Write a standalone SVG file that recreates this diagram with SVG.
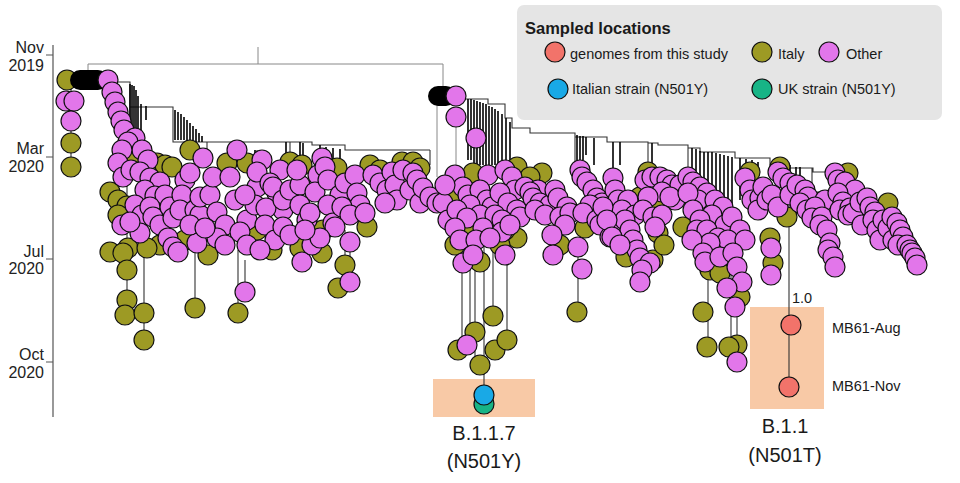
<svg xmlns="http://www.w3.org/2000/svg" width="960" height="483" viewBox="0 0 960 483">
<style>
text{font-family:"Liberation Sans",Arial,sans-serif;fill:#1a1a1a}
.o{fill:#9d9a24;stroke:#111;stroke-width:1.2}
.p{fill:#e276ea;stroke:#111;stroke-width:1.2}
.r{fill:#f2736a;stroke:#111;stroke-width:1.2}
.b{fill:#19a9e6;stroke:#111;stroke-width:1.2}
.g{fill:#17b486;stroke:#111;stroke-width:1.2}
.ln{fill:none;stroke:#333;stroke-width:1.1}
.gl{fill:none;stroke:#888;stroke-width:1}
.dk{fill:none;stroke:#000;stroke-width:1.6}
.ax{fill:none;stroke:#555;stroke-width:1.2}
.lab{font-size:16px;text-anchor:end;fill:#222}
.leg{font-size:14.5px}
.big{font-size:20px;text-anchor:middle}
.sm{font-size:14.5px}
</style>

<g id="axis">
<path class="ax" d="M53 45V417M46 55H53M46 157H53M46 259H53M46 362H53"/>
<text class="lab" x="44" y="53">Nov</text><text class="lab" x="44" y="71">2019</text>
<text class="lab" x="44" y="154">Mar</text><text class="lab" x="44" y="172">2020</text>
<text class="lab" x="44" y="257">Jul</text><text class="lab" x="44" y="274">2020</text>
<text class="lab" x="44" y="360">Oct</text><text class="lab" x="44" y="378">2020</text>
</g>

<g id="highlights">
<rect x="433" y="379" width="102" height="38" fill="#f8c9a6"/>
<rect x="750" y="307" width="74" height="102" fill="#f8c9a6"/>
</g>

<g id="connectors">
<path class="gl" d="M88 80V64H443V96M258 47V64"/>
<path class="ln" d="M103 82H130V107H173V142H312V145H345V150H430M130 107V160M71 80V167M127 140V300M144 250V340M195 240V308M238 250V313M245 260V292M302 230V262M322 230V253M345 230V282M350 240V282M207 142V150M257 150V172M290 142V162"/>
<path class="dk" d="M130 84V160M132 85V160M134 86V140M136 90V138M138 96V134M141 104V130M146 106V120M175 110V140M178 112V140M181 114V140M184 117V140M187 120V142M190 123V142M193 126V142M196 129V142M199 133V142M202 136V142M255 150V175M258 152V170M261 153V168M300 142V165M303 143V160M320 145V165M326 147V168M333 148V165M340 149V168M246 150V172M286 142V160"/>
<path class="gl" d="M437 100V177M456 117V175M476 138V175"/>
<path class="ln" d="M458 99H488V104H505V118H512V128H530V133H575V137H607V142H648V143H658V145H688V148H700V152H735V158H770V165H785V168H813V172H835M575 133V165M648 143V172M688 148V177M784 165V172M812 168V190M484 230V395M470 240V345M475 250V365M493 240V316M507 240V340M462 240V350M553 235V255M578 240V312M708 253V347M737 280V362M731 260V345M789 195V387M773 238V275M767 230V263M430 150V165"/>
<path class="dk" d="M468 99V160M471 99V160M474 100V165M477 101V165M480 102V165M483 103V165M486 104V165M489 106V165M492 107V165M495 109V165M498 111V165M502 114V165M506 118V165M510 122V170M577 135V165M580 136V160M583 136V160M586 137V155M594 138V165M613 142V172M620 142V165M652 143V172M692 148V178M696 149V180M700 151V183M704 152V185M708 152V188M712 152V190M716 153V195M720 154V200M724 155V205M728 156V208M732 157V212M740 158V200M746 159V175M752 160V180M758 162V175M790 165V172M796 167V180M800 167V185"/>
</g>

<g id="clade-left">
<circle class="o" cx="67" cy="80" r="10"/>
<rect x="70" y="70" width="38" height="20" rx="10" fill="#000"/>
<circle class="o" cx="71" cy="143" r="10"/><circle class="o" cx="71" cy="167" r="10"/>
<circle class="p" cx="66" cy="101" r="10"/><circle class="p" cx="74" cy="101" r="10"/><circle class="p" cx="71" cy="121" r="10"/>
<circle class="p" cx="108" cy="80" r="10"/>
<circle class="o" cx="110" cy="192" r="10"/><circle class="o" cx="118" cy="200" r="10"/><circle class="o" cx="127" cy="206" r="10"/><circle class="o" cx="118" cy="215" r="10"/><circle class="o" cx="157" cy="163" r="10"/><circle class="o" cx="165" cy="165" r="10"/><circle class="o" cx="172" cy="167" r="10"/><circle class="o" cx="190" cy="150" r="10"/><circle class="o" cx="227" cy="163" r="10"/><circle class="o" cx="247" cy="163" r="10"/><circle class="o" cx="290" cy="162" r="10"/><circle class="o" cx="302" cy="165" r="10"/><circle class="o" cx="337" cy="168" r="10"/><circle class="o" cx="370" cy="165" r="10"/><circle class="o" cx="380" cy="170" r="10"/><circle class="o" cx="402" cy="162" r="10"/><circle class="o" cx="413" cy="162" r="10"/><circle class="o" cx="420" cy="168" r="10"/><circle class="o" cx="257" cy="230" r="10"/><circle class="o" cx="272" cy="250" r="10"/><circle class="o" cx="310" cy="235" r="10"/><circle class="o" cx="160" cy="245" r="10"/><circle class="o" cx="110" cy="252" r="10"/><circle class="o" cx="128" cy="248" r="10"/><circle class="o" cx="147" cy="248" r="10"/><circle class="o" cx="123" cy="253" r="10"/><circle class="o" cx="127" cy="270" r="10"/><circle class="o" cx="127" cy="300" r="10"/><circle class="o" cx="125" cy="315" r="10"/><circle class="o" cx="144" cy="313" r="10"/><circle class="o" cx="144" cy="340" r="10"/><circle class="o" cx="195" cy="308" r="10"/><circle class="o" cx="238" cy="313" r="10"/><circle class="o" cx="322" cy="253" r="10"/><circle class="o" cx="345" cy="265" r="10"/><circle class="o" cx="338" cy="288" r="10"/><circle class="o" cx="367" cy="227" r="10"/><circle class="o" cx="323" cy="230" r="10"/><circle class="o" cx="185" cy="240" r="10"/><circle class="o" cx="300" cy="248" r="10"/><circle class="o" cx="208" cy="255" r="10"/><circle class="o" cx="135" cy="160" r="10"/>
<circle class="p" cx="112" cy="92" r="10"/><circle class="p" cx="115" cy="102" r="10"/><circle class="p" cx="118" cy="112" r="10"/><circle class="p" cx="121" cy="121" r="10"/><circle class="p" cx="124" cy="130" r="10"/><circle class="p" cx="135" cy="138" r="10"/><circle class="p" cx="128" cy="142" r="10"/><circle class="p" cx="142" cy="150" r="10"/><circle class="p" cx="148" cy="160" r="10"/><circle class="p" cx="122" cy="150" r="10"/><circle class="p" cx="118" cy="163" r="10"/><circle class="p" cx="123" cy="177" r="10"/><circle class="p" cx="131" cy="170" r="10"/><circle class="p" cx="140" cy="172" r="10"/><circle class="p" cx="150" cy="178" r="10"/><circle class="p" cx="160" cy="182" r="10"/><circle class="p" cx="145" cy="190" r="10"/><circle class="p" cx="155" cy="196" r="10"/><circle class="p" cx="165" cy="195" r="10"/><circle class="p" cx="135" cy="205" r="10"/><circle class="p" cx="142" cy="215" r="10"/><circle class="p" cx="150" cy="207" r="10"/><circle class="p" cx="153" cy="217" r="10"/><circle class="p" cx="160" cy="225" r="10"/><circle class="p" cx="140" cy="233" r="10"/><circle class="p" cx="122" cy="225" r="10"/><circle class="p" cx="130" cy="222" r="10"/><circle class="p" cx="170" cy="207" r="10"/><circle class="p" cx="173" cy="218" r="10"/><circle class="p" cx="168" cy="238" r="10"/><circle class="p" cx="185" cy="180" r="10"/><circle class="p" cx="182" cy="195" r="10"/><circle class="p" cx="180" cy="210" r="10"/><circle class="p" cx="195" cy="210" r="10"/><circle class="p" cx="200" cy="215" r="10"/><circle class="p" cx="190" cy="173" r="10"/><circle class="p" cx="203" cy="158" r="10"/><circle class="p" cx="200" cy="197" r="10"/><circle class="p" cx="210" cy="195" r="10"/><circle class="p" cx="213" cy="177" r="10"/><circle class="p" cx="217" cy="212" r="10"/><circle class="p" cx="230" cy="177" r="10"/><circle class="p" cx="237" cy="150" r="10"/><circle class="p" cx="262" cy="160" r="10"/><circle class="p" cx="280" cy="170" r="10"/><circle class="p" cx="247" cy="220" r="10"/><circle class="p" cx="257" cy="187" r="10"/><circle class="p" cx="257" cy="172" r="10"/><circle class="p" cx="270" cy="183" r="10"/><circle class="p" cx="277" cy="193" r="10"/><circle class="p" cx="283" cy="210" r="10"/><circle class="p" cx="255" cy="205" r="10"/><circle class="p" cx="266" cy="208" r="10"/><circle class="p" cx="225" cy="225" r="10"/><circle class="p" cx="240" cy="232" r="10"/><circle class="p" cx="173" cy="247" r="10"/><circle class="p" cx="178" cy="252" r="10"/><circle class="p" cx="197" cy="243" r="10"/><circle class="p" cx="217" cy="238" r="10"/><circle class="p" cx="225" cy="245" r="10"/><circle class="p" cx="247" cy="245" r="10"/><circle class="p" cx="190" cy="225" r="10"/><circle class="p" cx="205" cy="228" r="10"/><circle class="p" cx="235" cy="200" r="10"/><circle class="p" cx="245" cy="195" r="10"/><circle class="p" cx="265" cy="225" r="10"/><circle class="p" cx="275" cy="240" r="10"/><circle class="p" cx="260" cy="250" r="10"/><circle class="p" cx="245" cy="292" r="10"/><circle class="p" cx="273" cy="187" r="10"/><circle class="p" cx="283" cy="200" r="10"/><circle class="p" cx="290" cy="190" r="10"/><circle class="p" cx="300" cy="185" r="10"/><circle class="p" cx="297" cy="170" r="10"/><circle class="p" cx="318" cy="175" r="10"/><circle class="p" cx="315" cy="192" r="10"/><circle class="p" cx="300" cy="205" r="10"/><circle class="p" cx="283" cy="227" r="10"/><circle class="p" cx="307" cy="220" r="10"/><circle class="p" cx="310" cy="213" r="10"/><circle class="p" cx="322" cy="158" r="10"/><circle class="p" cx="325" cy="167" r="10"/><circle class="p" cx="328" cy="180" r="10"/><circle class="p" cx="340" cy="195" r="10"/><circle class="p" cx="345" cy="183" r="10"/><circle class="p" cx="355" cy="175" r="10"/><circle class="p" cx="357" cy="193" r="10"/><circle class="p" cx="360" cy="205" r="10"/><circle class="p" cx="328" cy="205" r="10"/><circle class="p" cx="333" cy="223" r="10"/><circle class="p" cx="342" cy="207" r="10"/><circle class="p" cx="350" cy="215" r="10"/><circle class="p" cx="365" cy="213" r="10"/><circle class="p" cx="335" cy="227" r="10"/><circle class="p" cx="373" cy="175" r="10"/><circle class="p" cx="380" cy="183" r="10"/><circle class="p" cx="392" cy="172" r="10"/><circle class="p" cx="387" cy="190" r="10"/><circle class="p" cx="395" cy="185" r="10"/><circle class="p" cx="397" cy="200" r="10"/><circle class="p" cx="385" cy="203" r="10"/><circle class="p" cx="403" cy="170" r="10"/><circle class="p" cx="410" cy="190" r="10"/><circle class="p" cx="413" cy="173" r="10"/><circle class="p" cx="417" cy="180" r="10"/><circle class="p" cx="420" cy="203" r="10"/><circle class="p" cx="423" cy="188" r="10"/><circle class="p" cx="430" cy="197" r="10"/><circle class="p" cx="437" cy="203" r="10"/><circle class="p" cx="302" cy="262" r="10"/><circle class="p" cx="350" cy="282" r="10"/><circle class="p" cx="350" cy="242" r="10"/><circle class="p" cx="290" cy="235" r="10"/><circle class="p" cx="312" cy="245" r="10"/><circle class="p" cx="320" cy="238" r="10"/><circle class="p" cx="305" cy="230" r="10"/>
</g>

<g id="clade-right">
<rect x="428" y="86" width="28" height="20" rx="10" fill="#000"/>
<circle class="p" cx="456" cy="96" r="10"/><circle class="p" cx="456" cy="117" r="10"/><circle class="p" cx="476" cy="138" r="10"/>
<circle class="o" cx="473" cy="173" r="10"/><circle class="o" cx="517" cy="167" r="10"/><circle class="o" cx="542" cy="173" r="10"/><circle class="o" cx="530" cy="177" r="10"/><circle class="o" cx="453" cy="200" r="10"/><circle class="o" cx="470" cy="232" r="10"/><circle class="o" cx="517" cy="238" r="10"/><circle class="o" cx="505" cy="230" r="10"/><circle class="o" cx="480" cy="262" r="10"/><circle class="o" cx="493" cy="316" r="10"/><circle class="o" cx="475" cy="332" r="10"/><circle class="o" cx="458" cy="350" r="10"/><circle class="o" cx="480" cy="365" r="10"/><circle class="o" cx="495" cy="350" r="10"/><circle class="o" cx="507" cy="340" r="10"/><circle class="o" cx="577" cy="312" r="10"/><circle class="o" cx="653" cy="260" r="10"/><circle class="o" cx="648" cy="172" r="10"/><circle class="o" cx="660" cy="207" r="10"/><circle class="o" cx="658" cy="233" r="10"/><circle class="o" cx="640" cy="197" r="10"/><circle class="o" cx="710" cy="270" r="10"/><circle class="o" cx="720" cy="273" r="10"/><circle class="o" cx="683" cy="227" r="10"/><circle class="o" cx="703" cy="312" r="10"/><circle class="o" cx="707" cy="347" r="10"/><circle class="o" cx="737" cy="345" r="10"/><circle class="o" cx="729" cy="347" r="10"/><circle class="o" cx="740" cy="297" r="10"/><circle class="o" cx="780" cy="167" r="10"/><circle class="o" cx="818" cy="202" r="10"/><circle class="o" cx="787" cy="217" r="10"/><circle class="o" cx="770" cy="238" r="10"/><circle class="o" cx="773" cy="263" r="10"/><circle class="o" cx="848" cy="173" r="10"/><circle class="o" cx="888" cy="203" r="10"/><circle class="o" cx="455" cy="245" r="10"/><circle class="o" cx="500" cy="245" r="10"/><circle class="o" cx="560" cy="245" r="10"/><circle class="o" cx="585" cy="228" r="10"/><circle class="o" cx="626" cy="257" r="10"/><circle class="o" cx="664" cy="245" r="10"/><circle class="o" cx="750" cy="172" r="10"/>
<circle class="p" cx="455" cy="175" r="10"/><circle class="p" cx="488" cy="175" r="10"/><circle class="p" cx="505" cy="170" r="10"/><circle class="p" cx="512" cy="177" r="10"/><circle class="p" cx="515" cy="190" r="10"/><circle class="p" cx="463" cy="187" r="10"/><circle class="p" cx="468" cy="195" r="10"/><circle class="p" cx="480" cy="190" r="10"/><circle class="p" cx="487" cy="200" r="10"/><circle class="p" cx="492" cy="207" r="10"/><circle class="p" cx="500" cy="193" r="10"/><circle class="p" cx="508" cy="203" r="10"/><circle class="p" cx="470" cy="205" r="10"/><circle class="p" cx="480" cy="215" r="10"/><circle class="p" cx="495" cy="215" r="10"/><circle class="p" cx="517" cy="210" r="10"/><circle class="p" cx="520" cy="217" r="10"/><circle class="p" cx="443" cy="203" r="10"/><circle class="p" cx="448" cy="220" r="10"/><circle class="p" cx="457" cy="210" r="10"/><circle class="p" cx="467" cy="218" r="10"/><circle class="p" cx="455" cy="228" r="10"/><circle class="p" cx="483" cy="228" r="10"/><circle class="p" cx="502" cy="220" r="10"/><circle class="p" cx="502" cy="232" r="10"/><circle class="p" cx="510" cy="225" r="10"/><circle class="p" cx="445" cy="185" r="10"/><circle class="p" cx="460" cy="240" r="10"/><circle class="p" cx="476" cy="240" r="10"/><circle class="p" cx="490" cy="238" r="10"/><circle class="p" cx="463" cy="263" r="10"/><circle class="p" cx="473" cy="255" r="10"/><circle class="p" cx="505" cy="255" r="10"/><circle class="p" cx="467" cy="345" r="10"/>
<circle class="p" cx="525" cy="187" r="10"/><circle class="p" cx="538" cy="190" r="10"/><circle class="p" cx="530" cy="192" r="10"/><circle class="p" cx="533" cy="198" r="10"/><circle class="p" cx="540" cy="203" r="10"/><circle class="p" cx="550" cy="205" r="10"/><circle class="p" cx="555" cy="190" r="10"/><circle class="p" cx="558" cy="198" r="10"/><circle class="p" cx="567" cy="207" r="10"/><circle class="p" cx="535" cy="210" r="10"/><circle class="p" cx="545" cy="215" r="10"/><circle class="p" cx="560" cy="217" r="10"/><circle class="p" cx="570" cy="213" r="10"/><circle class="p" cx="565" cy="225" r="10"/><circle class="p" cx="552" cy="235" r="10"/><circle class="p" cx="553" cy="255" r="10"/><circle class="p" cx="578" cy="247" r="10"/><circle class="p" cx="582" cy="269" r="10"/>
<circle class="p" cx="580" cy="170" r="10"/><circle class="p" cx="582" cy="177" r="10"/><circle class="p" cx="587" cy="182" r="10"/><circle class="p" cx="593" cy="190" r="10"/><circle class="p" cx="597" cy="198" r="10"/><circle class="p" cx="602" cy="203" r="10"/><circle class="p" cx="590" cy="205" r="10"/><circle class="p" cx="607" cy="210" r="10"/><circle class="p" cx="583" cy="213" r="10"/><circle class="p" cx="597" cy="220" r="10"/><circle class="p" cx="600" cy="225" r="10"/><circle class="p" cx="613" cy="223" r="10"/><circle class="p" cx="610" cy="237" r="10"/><circle class="p" cx="613" cy="178" r="10"/><circle class="p" cx="615" cy="190" r="10"/><circle class="p" cx="618" cy="200" r="10"/><circle class="p" cx="628" cy="200" r="10"/><circle class="p" cx="622" cy="210" r="10"/><circle class="p" cx="635" cy="215" r="10"/><circle class="p" cx="625" cy="220" r="10"/><circle class="p" cx="630" cy="230" r="10"/><circle class="p" cx="633" cy="240" r="10"/><circle class="p" cx="637" cy="250" r="10"/><circle class="p" cx="640" cy="258" r="10"/><circle class="p" cx="650" cy="263" r="10"/><circle class="p" cx="642" cy="270" r="10"/><circle class="p" cx="640" cy="282" r="10"/><circle class="p" cx="603" cy="207" r="10"/><circle class="p" cx="607" cy="220" r="10"/><circle class="p" cx="612" cy="237" r="10"/><circle class="p" cx="620" cy="245" r="10"/>
<circle class="p" cx="645" cy="180" r="10"/><circle class="p" cx="652" cy="177" r="10"/><circle class="p" cx="660" cy="177" r="10"/><circle class="p" cx="667" cy="180" r="10"/><circle class="p" cx="672" cy="185" r="10"/><circle class="p" cx="680" cy="185" r="10"/><circle class="p" cx="662" cy="192" r="10"/><circle class="p" cx="675" cy="200" r="10"/><circle class="p" cx="648" cy="197" r="10"/><circle class="p" cx="670" cy="197" r="10"/><circle class="p" cx="643" cy="210" r="10"/><circle class="p" cx="653" cy="217" r="10"/><circle class="p" cx="662" cy="215" r="10"/><circle class="p" cx="655" cy="227" r="10"/>
<circle class="p" cx="688" cy="177" r="10"/><circle class="p" cx="693" cy="182" r="10"/><circle class="p" cx="700" cy="187" r="10"/><circle class="p" cx="707" cy="193" r="10"/><circle class="p" cx="698" cy="200" r="10"/><circle class="p" cx="715" cy="200" r="10"/><circle class="p" cx="723" cy="207" r="10"/><circle class="p" cx="712" cy="215" r="10"/><circle class="p" cx="725" cy="225" r="10"/><circle class="p" cx="732" cy="217" r="10"/><circle class="p" cx="740" cy="230" r="10"/><circle class="p" cx="688" cy="193" r="10"/><circle class="p" cx="693" cy="210" r="10"/><circle class="p" cx="700" cy="220" r="10"/><circle class="p" cx="697" cy="230" r="10"/><circle class="p" cx="707" cy="230" r="10"/><circle class="p" cx="718" cy="238" r="10"/><circle class="p" cx="728" cy="240" r="10"/><circle class="p" cx="745" cy="240" r="10"/><circle class="p" cx="710" cy="243" r="10"/><circle class="p" cx="692" cy="240" r="10"/><circle class="p" cx="703" cy="253" r="10"/><circle class="p" cx="705" cy="262" r="10"/><circle class="p" cx="720" cy="257" r="10"/><circle class="p" cx="733" cy="253" r="10"/><circle class="p" cx="737" cy="267" r="10"/><circle class="p" cx="742" cy="282" r="10"/><circle class="p" cx="727" cy="288" r="10"/><circle class="p" cx="735" cy="307" r="10"/><circle class="p" cx="737" cy="362" r="10"/>
<circle class="p" cx="745" cy="178" r="10"/><circle class="p" cx="750" cy="190" r="10"/><circle class="p" cx="752" cy="200" r="10"/><circle class="p" cx="760" cy="198" r="10"/><circle class="p" cx="758" cy="210" r="10"/><circle class="p" cx="763" cy="187" r="10"/><circle class="p" cx="767" cy="200" r="10"/><circle class="p" cx="772" cy="195" r="10"/><circle class="p" cx="778" cy="207" r="10"/><circle class="p" cx="778" cy="172" r="10"/><circle class="p" cx="783" cy="178" r="10"/><circle class="p" cx="790" cy="183" r="10"/><circle class="p" cx="790" cy="195" r="10"/><circle class="p" cx="797" cy="185" r="10"/><circle class="p" cx="805" cy="190" r="10"/><circle class="p" cx="808" cy="197" r="10"/><circle class="p" cx="800" cy="203" r="10"/><circle class="p" cx="825" cy="200" r="10"/><circle class="p" cx="807" cy="210" r="10"/><circle class="p" cx="815" cy="207" r="10"/><circle class="p" cx="812" cy="218" r="10"/><circle class="p" cx="822" cy="217" r="10"/><circle class="p" cx="820" cy="225" r="10"/><circle class="p" cx="827" cy="230" r="10"/><circle class="p" cx="830" cy="243" r="10"/><circle class="p" cx="828" cy="250" r="10"/><circle class="p" cx="833" cy="257" r="10"/><circle class="p" cx="835" cy="267" r="10"/><circle class="p" cx="771" cy="248" r="10"/><circle class="p" cx="771" cy="275" r="10"/>
<circle class="p" cx="835" cy="173" r="10"/><circle class="p" cx="838" cy="180" r="10"/><circle class="p" cx="845" cy="182" r="10"/><circle class="p" cx="855" cy="190" r="10"/><circle class="p" cx="838" cy="193" r="10"/><circle class="p" cx="843" cy="202" r="10"/><circle class="p" cx="840" cy="210" r="10"/><circle class="p" cx="850" cy="208" r="10"/><circle class="p" cx="848" cy="215" r="10"/><circle class="p" cx="853" cy="213" r="10"/><circle class="p" cx="860" cy="202" r="10"/><circle class="p" cx="867" cy="198" r="10"/><circle class="p" cx="870" cy="207" r="10"/><circle class="p" cx="875" cy="212" r="10"/><circle class="p" cx="862" cy="225" r="10"/><circle class="p" cx="873" cy="220" r="10"/><circle class="p" cx="877" cy="230" r="10"/><circle class="p" cx="880" cy="240" r="10"/><circle class="p" cx="883" cy="220" r="10"/><circle class="p" cx="888" cy="228" r="10"/><circle class="p" cx="892" cy="217" r="10"/><circle class="p" cx="893" cy="240" r="10"/><circle class="p" cx="897" cy="223" r="10"/><circle class="p" cx="900" cy="230" r="10"/><circle class="p" cx="903" cy="237" r="10"/><circle class="p" cx="898" cy="245" r="10"/><circle class="p" cx="907" cy="245" r="10"/><circle class="p" cx="910" cy="250" r="10"/><circle class="p" cx="912" cy="253" r="10"/><circle class="p" cx="915" cy="258" r="10"/><circle class="p" cx="917" cy="265" r="10"/>
</g>

<g id="node-B117">
<circle class="g" cx="484" cy="404" r="10"/>
<circle class="b" cx="484" cy="395" r="10"/>
<text class="big" x="484" y="440">B.1.1.7</text>
<text class="big" x="484" y="468">(N501Y)</text>
</g>

<g id="node-B11">
<text class="sm" x="792" y="303">1.0</text>
<circle class="r" cx="791" cy="325" r="10"/>
<circle class="r" cx="789" cy="387" r="10"/>
<text class="sm" x="832" y="333">MB61-Aug</text>
<text class="sm" x="832" y="391">MB61-Nov</text>
<text class="big" x="785" y="433">B.1.1</text>
<text class="big" x="785" y="462">(N501T)</text>
</g>

<g id="legend">
<rect x="517" y="5" width="425" height="115" rx="7" fill="#e5e5e5"/>
<text x="525" y="34" font-size="16.5" font-weight="bold">Sampled locations</text>
<circle class="r" cx="555" cy="52" r="10"/><text class="leg" x="570" y="59">genomes from this study</text>
<circle class="o" cx="762" cy="52" r="10"/><text class="leg" x="778" y="59">Italy</text>
<circle class="p" cx="829" cy="52" r="10"/><text class="leg" x="846" y="59">Other</text>
<circle class="b" cx="558" cy="89" r="10"/><text class="leg" x="572" y="94">Italian strain (N501Y)</text>
<circle class="g" cx="762" cy="89" r="10"/><text class="leg" x="778" y="94">UK strain (N501Y)</text>
</g>
</svg>
